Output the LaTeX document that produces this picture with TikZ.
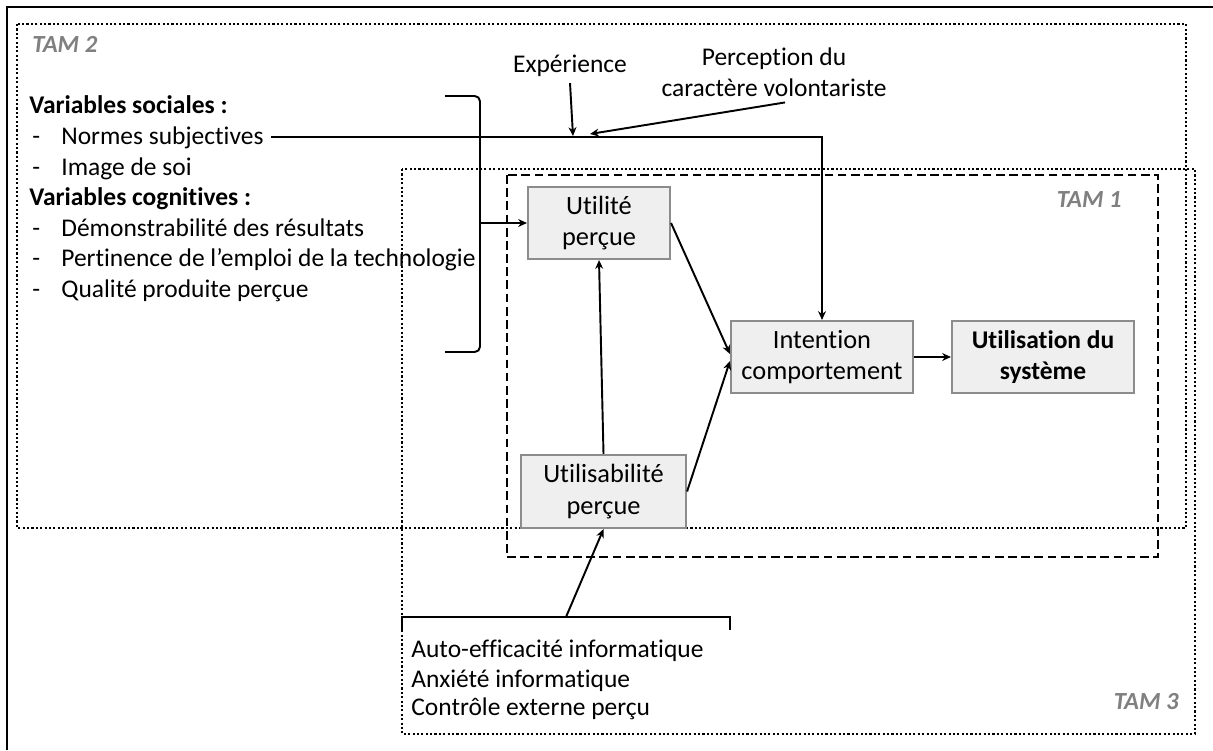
\documentclass[tikz,border=0pt]{standalone}
\usepackage{fontspec}
\setmainfont[Ligatures=NoCommon]{Carlito}
\usetikzlibrary{positioning}
\usetikzlibrary{arrows.meta}
\usetikzlibrary{calc}

\definecolor{boxgray}{HTML}{8C8C8C}
\definecolor{boxfill}{HTML}{EFEFEF}
\definecolor{tamgray}{HTML}{808080}

\tikzset{
	box/.style={draw=boxgray,fill=boxfill,line width=1.2pt,minimum width=3.64cm,minimum height=1.44cm,align=center,inner sep=2pt,font=\fontsize{15}{18}\selectfont},
	txt/.style={inner sep=0pt,anchor=base west,font=\fontsize{14.5}{17}\selectfont},
	tam/.style={inner sep=0pt,text=tamgray,font=\fontsize{14}{17}\selectfont\bfseries\itshape},
	lnk/.style={line width=1.1pt,-{Stealth[length=5pt,width=4.5pt]}},
	dotbox/.style={line width=1.2pt,dash pattern=on 1.2pt off 1.3pt},
	dashbox/.style={line width=1.4pt,dash pattern=on 5pt off 2.5pt},
}

\begin{document}
\begin{tikzpicture}
		\useasboundingbox (0,0) rectangle (24.26,-15);
		% cadres
		\draw [line width=1.3pt] (0.14,-15) -- (0.14,-0.14) -- (24.26,-0.14);
		\draw [dotbox] (0.34,-0.48) rectangle (23.72,-10.56);
		\draw [dotbox] (8.04,-3.38) rectangle (23.9,-14.68);
		\draw [dashbox] (10.14,-3.5) rectangle (23.16,-11.14);
		\node (tamdeux) [tam,anchor=base west] at (0.64,-1.04) {TAM 2};
		\node (tamun) [tam,anchor=base east] at (22.44,-4.14) {TAM 1};
		\node (tamtrois) [tam,anchor=base east] at (23.58,-14.18) {TAM 3};
		% variables TAM 2
		\node (soc) [txt,font=\fontsize{14.5}{17}\selectfont\bfseries] at (0.58,-2.26) {Variables sociales :};
		\node (d1) [txt] at (0.64,-2.88) {-};
		\node (norm) [txt] at (1.22,-2.88) {Normes subjectives};
		\node (d2) [txt] at (0.64,-3.5) {-};
		\node (img) [txt] at (1.22,-3.5) {Image de soi};
		\node (cog) [txt,font=\fontsize{14.5}{17}\selectfont\bfseries] at (0.58,-4.1) {Variables cognitives :};
		\node (d3) [txt] at (0.64,-4.72) {-};
		\node (demo) [txt] at (1.22,-4.72) {Démonstrabilité des résultats};
		\node (d4) [txt] at (0.64,-5.32) {-};
		\node (pert) [txt] at (1.22,-5.32) {Pertinence de l’emploi de la technologie};
		\node (d5) [txt] at (0.64,-5.94) {-};
		\node (qual) [txt] at (1.22,-5.94) {Qualité produite perçue};
		\node (exp) [font=\fontsize{14.5}{17}\selectfont] at (11.4,-1.32) {Expérience};
		\node (perc) [align=center,font=\fontsize{14.5}{17.4}\selectfont] at (15.48,-1.44) {Perception du\\caractère volontariste};
		% variables TAM 3
		\node (auto) [txt] at (8.22,-13.14) {Auto-efficacité informatique};
		\node (anx) [txt] at (8.22,-13.74) {Anxiété informatique};
		\node (ctrl) [txt] at (8.22,-14.3) {Contrôle externe perçu};
		% TAM 1
		\node (util) [box,minimum width=2.84cm] at (11.98,-4.46) {Utilité\\perçue};
		\node (usab) [box,minimum width=3.3cm,minimum height=1.46cm] at (12.07,-9.83) {Utilisabilité\\perçue};
		\node (intent) [box] at (16.44,-7.14) {Intention\\comportement};
		\node (usage) [box,font=\fontsize{14.5}{18}\selectfont\bfseries] at (20.86,-7.14) {Utilisation du\\système};
		% accolades
		\coordinate (bh1) at (8.9,-1.92);
		\coordinate (bh2) at (9.6,-1.92);
		\coordinate (bb2) at (9.6,-7.04);
		\coordinate (bb1) at (8.9,-7.04);
		\coordinate (brk) at (9.6,-4.46);
		\draw [line width=1.1pt,rounded corners=3pt] (bh1) -- (bh2) -- (bb2) -- (bb1);
		\coordinate (ba1) at (8.04,-12.64);
		\coordinate (ba2) at (8.04,-12.34);
		\coordinate (ba3) at (14.6,-12.34);
		\coordinate (ba4) at (14.6,-12.6);
		\coordinate (bas) at (11.32,-12.34);
		\draw [line width=1.1pt] (ba1) -- (ba2) -- (ba3) -- (ba4);
		% liens
		\coordinate (expend) at (11.46,-2.72);
		\coordinate (volend) at (11.8,-2.68);
		\draw [lnk] ([xshift=4pt]norm.east) -| (intent.north);
		\draw [lnk] (exp.south) -- (expend);
		\draw [lnk] ($(perc.south)+(0.22,0)$) -- (volend);
		\draw [lnk] (brk) -- (util.west);
		\draw [lnk] (util.east) -- ($(intent.west)+(0,0.06)$);
		\draw [lnk] (usab.east) -- ($(intent.west)+(0,-0.08)$);
		\draw [lnk] (usab.north) -- (util.south);
		\draw [lnk] (intent.east) -- (usage.west);
		\draw [lnk] (bas) -- (usab.south);
	\end{tikzpicture}
\end{document}
